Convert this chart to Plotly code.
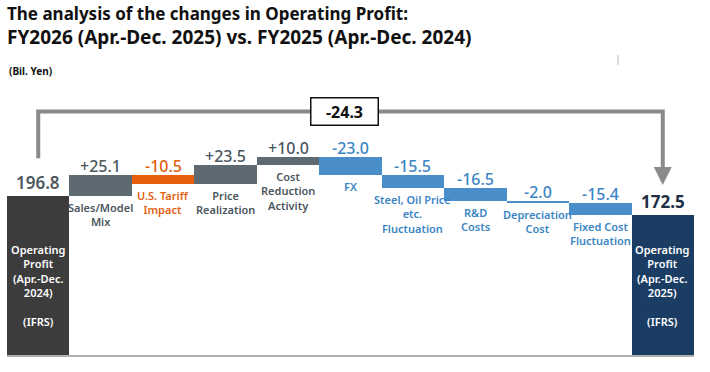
import plotly.graph_objects as go

# ---------------- data ----------------
category_labels = [
    "Operating<br>Profit<br>(Apr.-Dec.<br>2024)<br><br>(IFRS)",
    "Sales/Model<br>Mix",
    "U.S. Tariff<br>Impact",
    "Price<br>Realization",
    "Cost<br>Reduction<br>Activity",
    "FX",
    "Steel, Oil Price<br>etc.<br>Fluctuation",
    "R&D<br>Costs",
    "Depreciation<br>Cost",
    "Fixed Cost<br>Fluctuation",
    "Operating<br>Profit<br>(Apr.-Dec.<br>2025)<br><br>(IFRS)",
]
start_value = 196.8
deltas = [25.1, -10.5, 23.5, 10.0, -23.0, -15.5, -16.5, -2.0, -15.4]
end_value = 172.5
total_change = -24.3
title_lines = [
    "The analysis of the changes in Operating Profit:",
    "FY2026 (Apr.-Dec. 2025) vs. FY2025 (Apr.-Dec. 2024)",
]
unit_label = "(Bil. Yen)"

# ---------------- styles ----------------
C_START = "#3c3c3c"
C_POS = "#5e6a72"
C_TARIFF = "#e8600e"
C_NEG = "#4a8ec9"
C_END = "#1b3d64"
TXT_POS = "#4b565d"
TXT_TARIFF = "#e2600f"
TXT_NEG = "#3b85c4"
GRAY_LINE = "#8a8a8a"
FONT = "Noto Sans"

delta_colors = [C_POS, C_TARIFF, C_POS, C_POS, C_NEG, C_NEG, C_NEG, C_NEG, C_NEG]
delta_text_colors = [TXT_POS, TXT_TARIFF, TXT_POS, TXT_POS, TXT_NEG, TXT_NEG, TXT_NEG, TXT_NEG, TXT_NEG]

# compute floating bars
bases, heights = [], []
level = start_value
for d in deltas:
    bases.append(min(level, level + d))
    heights.append(abs(d))
    level += d

n = len(category_labels)
xs = list(range(n))

fig = go.Figure()
fig.add_trace(go.Bar(x=[0], y=[start_value], base=[0], marker_color=C_START,
                     marker_line_width=0, width=1.0, hoverinfo="skip"))
fig.add_trace(go.Bar(x=xs[1:-1], y=heights, base=bases, marker_color=delta_colors,
                     marker_line_width=0, width=1.0, hoverinfo="skip"))
fig.add_trace(go.Bar(x=[n - 1], y=[end_value], base=[0], marker_color=C_END,
                     marker_line_width=0, width=1.0, hoverinfo="skip"))

ann = []
for i, d in enumerate(deltas):
    x = i + 1
    top = bases[i] + heights[i]
    bot = bases[i]
    ann.append(dict(x=x, y=top, xref="x", yref="y", text=f"{d:+.1f}",
                    showarrow=False, yanchor="bottom", yshift=-4,
                    font=dict(family=FONT, size=16, color=delta_text_colors[i], weight=500)))
    ann.append(dict(x=x, y=bot, xref="x", yref="y", text=category_labels[x],
                    showarrow=False, yanchor="top", yshift=-2,
                    font=dict(family=FONT, size=11, color=delta_text_colors[i], weight=600)))
ann.append(dict(x=0, y=start_value, xref="x", yref="y", text=f"{start_value:.1f}",
                showarrow=False, yanchor="bottom", yshift=0,
                font=dict(family=FONT, size=17, color="#4d575d", weight=600)))
ann.append(dict(x=n - 1, y=end_value, xref="x", yref="y", text=f"{end_value:.1f}",
                showarrow=False, yanchor="bottom", yshift=0,
                font=dict(family=FONT, size=17, color="#1f2f44", weight="bold")))
INNER_Y = 86
ann.append(dict(x=0, y=INNER_Y, xref="x", yref="y", text=category_labels[0],
                showarrow=False, yanchor="middle",
                font=dict(family=FONT, size=11, color="white", weight=600)))
ann.append(dict(x=n - 1, y=INNER_Y, xref="x", yref="y", text=category_labels[-1],
                showarrow=False, yanchor="middle",
                font=dict(family=FONT, size=11, color="white", weight=600)))

# bracket
BR_LOW, BR_TOP, ARROW_TIP = 243, 301, 210
fig.add_shape(type="path", xref="x", yref="y",
              path=f"M 0,{BR_LOW} V {BR_TOP} H {n-1} V {ARROW_TIP + 15}",
              line=dict(color=GRAY_LINE, width=4))
ann.append(dict(x=n - 1, y=ARROW_TIP, ax=n - 1, ay=ARROW_TIP + 20, xref="x", yref="y",
                axref="x", ayref="y", text="", showarrow=True, arrowhead=2,
                arrowsize=0.9, arrowwidth=4, arrowcolor=GRAY_LINE))
ann.append(dict(x=4.9, y=BR_TOP, xref="x", yref="y", text=f"<b>{total_change:.1f}</b>",
                showarrow=False, bgcolor="white", bordercolor="#111111", borderwidth=1.5,
                width=64, height=24, font=dict(family=FONT, size=16, color="#111111")))

def py(p):
    return (355 - p) / 335

def px(p):
    return (p - 7) / 687

ann.append(dict(x=px(5), y=py(13.5), xref="paper", yref="paper", text=f"<b>{title_lines[0]}</b>",
                showarrow=False, xanchor="left", yanchor="middle",
                font=dict(family=FONT, size=17, color="#111111")))
ann.append(dict(x=px(5), y=py(36.5), xref="paper", yref="paper", text=f"<b>{title_lines[1]}</b>",
                showarrow=False, xanchor="left", yanchor="middle",
                font=dict(family=FONT, size=19, color="#111111")))
ann.append(dict(x=px(7), y=py(71), xref="paper", yref="paper", text=f"<b>{unit_label}</b>",
                showarrow=False, xanchor="left", yanchor="middle",
                font=dict(family=FONT, size=10, color="#111111")))

# small stray tick mark seen at top right of the slide
fig.add_shape(type="line", xref="paper", yref="paper", x0=px(618), x1=px(618),
              y0=py(55), y1=py(65), line=dict(color="#b8b8b8", width=1))

fig.update_layout(
    width=710, height=372,
    margin=dict(l=7, r=16, t=20, b=17),
    paper_bgcolor="white", plot_bgcolor="white",
    showlegend=False, bargap=0, barmode="overlay",
    annotations=ann,
    xaxis=dict(range=[-0.5, n - 0.5], showticklabels=False, showgrid=False, zeroline=False,
               showline=True, linecolor="#b0b0b0", linewidth=1.5, fixedrange=True),
    yaxis=dict(range=[0, 414], visible=False, fixedrange=True),
)

fig.write_html("out.html", config={"displayModeBar": False},
               post_script="document.body.style.margin='0';document.body.style.overflow='hidden';")
